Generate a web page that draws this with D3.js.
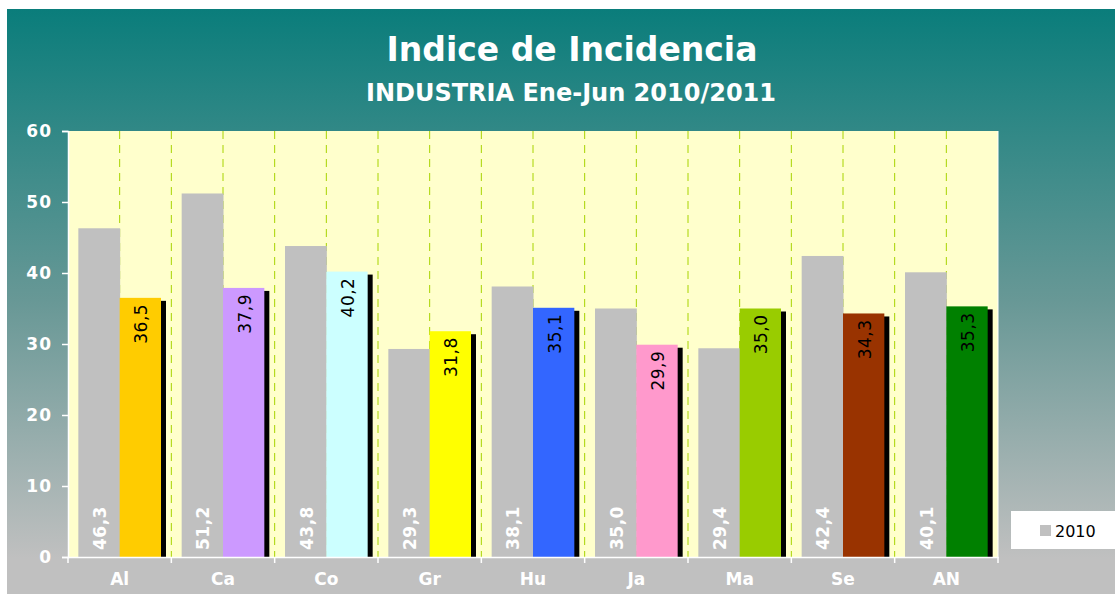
<!DOCTYPE html>
<html>
<head>
<meta charset="utf-8">
<script src="https://cdn.jsdelivr.net/npm/d3@7"></script>
<style>
    body { margin: 0; background: #fff; }
    svg { display: block; font-family: "DejaVu Sans", Verdana, sans-serif; }
</style>
</head>
<body>
<svg id="chart"></svg>
<script>

const categories = ["Al", "Ca", "Co", "Gr", "Hu", "Ja", "Ma", "Se", "AN"]
const values2010 = [46.3, 51.2, 43.8, 29.3, 38.1, 35.0, 29.4, 42.4, 40.1]
const values2011 = [36.5, 37.9, 40.2, 31.8, 35.1, 29.9, 35.0, 34.3, 35.3]
const colors2011 = ["#ffcc00", "#cc99ff", "#ccffff", "#ffff00", "#3366ff", "#ff99cc", "#99cc00", "#993300", "#008000"]
const yTicks = [0, 10, 20, 30, 40, 50, 60]

const w = 1115
const h = 594
const plotLeft = 68
const plotRight = 998
const plotTop = 131
const plotBottom = 557

const fmt = v => v.toFixed(1).replace(".", ",")

const svg = d3.select("#chart")
    .attr("width", w)
    .attr("height", h)

// background gradient
const defs = svg.append("defs")
const grad = defs.append("linearGradient")
    .attr("id", "bg")
    .attr("x1", 0).attr("y1", 0)
    .attr("x2", 0).attr("y2", 1)
grad.append("stop").attr("offset", "0").attr("stop-color", "#0a7d7b")
grad.append("stop").attr("offset", "0.5").attr("stop-color", "#689896")
grad.append("stop").attr("offset", "0.94").attr("stop-color", "#c0c0c0")
grad.append("stop").attr("offset", "1").attr("stop-color", "#c0c0c0")

svg.append("rect")
    .attr("x", 7)
    .attr("y", 9)
    .attr("width", w - 7)
    .attr("height", h - 9)
    .attr("fill", "url(#bg)")

// titles
svg.append("text")
    .attr("x", 572)
    .attr("y", 61)
    .attr("text-anchor", "middle")
    .attr("fill", "#fff")
    .attr("font-weight", "bold")
    .attr("font-size", 33)
    .text("Indice de Incidencia")

svg.append("text")
    .attr("x", 571)
    .attr("y", 101)
    .attr("text-anchor", "middle")
    .attr("fill", "#fff")
    .attr("font-weight", "bold")
    .attr("font-size", 24)
    .text("INDUSTRIA Ene-Jun 2010/2011")

//Create scales
const x0 = d3.scaleBand()
    .domain(categories)
    .range([plotLeft, plotRight])

const bw = x0.bandwidth()

const x1 = d3.scaleBand()
    .domain(["2010", "2011"])
    .range([bw * 0.1, bw * 0.9])

const yScale = d3.scaleLinear()
    .domain([0, 60])
    .range([plotBottom, plotTop])

// plot area
svg.append("rect")
    .attr("x", plotLeft)
    .attr("y", plotTop)
    .attr("width", plotRight - plotLeft)
    .attr("height", plotBottom - plotTop)
    .attr("fill", "#ffffcc")

// dashed vertical gridlines at boundaries and centers
const gridX = []
categories.forEach((c, i) => {
    if (i > 0) gridX.push(x0(c))
    gridX.push(x0(c) + bw / 2)
})

svg.append("g")
    .selectAll("line")
    .data(gridX)
    .enter()
    .append("line")
    .attr("x1", d => d)
    .attr("x2", d => d)
    .attr("y1", plotTop)
    .attr("y2", plotBottom)
    .attr("stroke", "#a8d400")
    .attr("stroke-width", 1)
    .attr("stroke-dasharray", "8,6")

const data = categories.map((c, i) => ({
    cat: c,
    v2010: values2010[i],
    v2011: values2011[i],
    color: colors2011[i]
}))

// 2010 bars
svg.append("g")
    .selectAll("rect")
    .data(data)
    .enter()
    .append("rect")
    .attr("x", d => x0(d.cat) + x1("2010"))
    .attr("y", d => yScale(d.v2010))
    .attr("width", x1.bandwidth() + 0.5)
    .attr("height", d => yScale(0) - yScale(d.v2010))
    .attr("fill", "#c0c0c0")

// 2011 shadows
svg.append("g")
    .selectAll("rect")
    .data(data)
    .enter()
    .append("rect")
    .attr("x", d => x0(d.cat) + x1("2011") + 5)
    .attr("y", d => yScale(d.v2011) + 3)
    .attr("width", x1.bandwidth())
    .attr("height", d => yScale(0) - yScale(d.v2011) - 3)
    .attr("fill", "#000")

// 2011 bars
svg.append("g")
    .selectAll("rect")
    .data(data)
    .enter()
    .append("rect")
    .attr("x", d => x0(d.cat) + x1("2011"))
    .attr("y", d => yScale(d.v2011))
    .attr("width", x1.bandwidth())
    .attr("height", d => yScale(0) - yScale(d.v2011))
    .attr("fill", d => d.color)

// 2010 labels
svg.append("g")
    .selectAll("text")
    .data(data)
    .enter()
    .append("text")
    .attr("transform", d => `translate(${x0(d.cat) + x1("2010") + x1.bandwidth() / 2 + 7}, ${yScale(0) - 7}) rotate(-90)`)
    .attr("fill", "#fff")
    .attr("font-weight", "bold")
    .attr("font-size", 17)
    .attr("letter-spacing", 0.5)
    .text(d => fmt(d.v2010))

// 2011 labels
svg.append("g")
    .selectAll("text")
    .data(data)
    .enter()
    .append("text")
    .attr("transform", d => `translate(${x0(d.cat) + x1("2011") + x1.bandwidth() / 2 + 7}, ${yScale(d.v2011) + 6}) rotate(-90)`)
    .attr("text-anchor", "end")
    .attr("fill", "#000")
    .attr("font-size", 17)
    .attr("letter-spacing", 0.5)
    .text(d => fmt(d.v2011))

// right border line
svg.append("line")
    .attr("x1", plotRight)
    .attr("x2", plotRight)
    .attr("y1", plotTop)
    .attr("y2", plotBottom)
    .attr("stroke", "#fff")

//Create axis
const axisLeft = d3.axisLeft(yScale)
    .tickValues(yTicks)
    .tickSize(6)
    .tickPadding(10)

const gy = svg.append("g")
    .attr("transform", `translate(${plotLeft}, 0)`)
    .call(axisLeft)

gy.select(".domain").attr("stroke", "#fff").attr("stroke-width", 1.5)
gy.selectAll(".tick line").attr("stroke", "#fff").attr("stroke-width", 1.5)
gy.selectAll(".tick text")
    .attr("fill", "#fff")
    .attr("font-weight", "bold")
    .attr("font-size", 17)
    .attr("letter-spacing", 1)
    .attr("font-family", "DejaVu Sans, Verdana, sans-serif")

const axisBottom = d3.axisBottom(x0)
    .tickSize(0)
    .tickPadding(16)

const gx = svg.append("g")
    .attr("transform", `translate(0, ${plotBottom})`)
    .call(axisBottom)

gx.select(".domain").attr("stroke", "#fff").attr("stroke-width", 1.5)
gx.selectAll(".tick text")
    .attr("fill", "#fff")
    .attr("font-weight", "bold")
    .attr("font-size", 17)
    .attr("font-family", "DejaVu Sans, Verdana, sans-serif")

// boundary ticks on x axis
gx.append("g")
    .selectAll("line")
    .data(categories.map(c => x0(c)).concat([plotRight]))
    .enter()
    .append("line")
    .attr("x1", d => d)
    .attr("x2", d => d)
    .attr("y1", 0)
    .attr("y2", 6)
    .attr("stroke", "#fff")
    .attr("stroke-width", 1.5)

//Create legend
const legend = svg.append("g")
    .attr("transform", "translate(1011, 511)")

legend.append("rect")
    .attr("width", 110)
    .attr("height", 38)
    .attr("fill", "#fff")

legend.append("rect")
    .attr("x", 29)
    .attr("y", 14)
    .attr("width", 11)
    .attr("height", 11)
    .attr("fill", "#c0c0c0")

legend.append("text")
    .attr("x", 44)
    .attr("y", 26)
    .attr("font-size", 16)
    .attr("fill", "#000")
    .text("2010")

</script>
</body>
</html>
